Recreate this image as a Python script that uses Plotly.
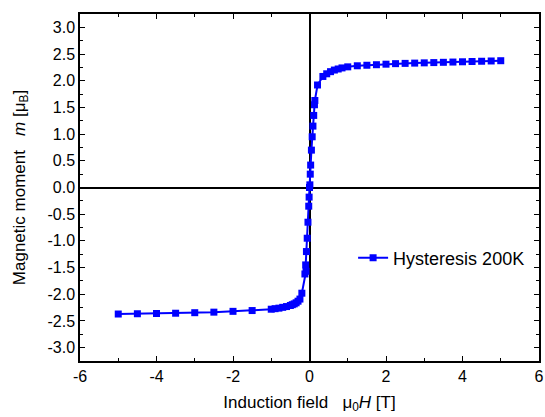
import plotly.graph_objects as go

H = [-5.0, -4.5, -4.0, -3.5, -3.0, -2.5, -2.0, -1.5, -1.0, -0.9, -0.8, -0.7, -0.6,
     -0.5, -0.45, -0.4, -0.35, -0.3, -0.25, -0.2, -0.09,
     -0.12, -0.10, -0.08, -0.06, -0.04, -0.02, -0.01, 0.0, 0.01, 0.02, 0.03, 0.05,
     0.07, 0.09, 0.11, 0.13, 0.14,
     0.21, 0.35, 0.45, 0.55, 0.65, 0.75, 0.85, 1.0, 1.25, 1.5, 1.75, 2.0, 2.25,
     2.5, 2.75, 3.0, 3.25, 3.5, 3.75, 4.0, 4.25, 4.5, 4.75, 5.0]
m = [-2.37, -2.365, -2.36, -2.355, -2.345, -2.335, -2.32, -2.305, -2.28, -2.27,
     -2.26, -2.245, -2.23, -2.21, -2.195, -2.18, -2.16, -2.13, -2.09, -1.98, -1.57,
     -1.62, -1.45, -1.2, -0.95, -0.65, -0.35, -0.18, 0.0, 0.05, 0.25, 0.42, 0.7,
     0.95, 1.15, 1.35, 1.55, 1.63,
     1.92, 2.08, 2.13, 2.17, 2.2, 2.22, 2.24, 2.26, 2.28, 2.29, 2.30, 2.31, 2.32,
     2.325, 2.33, 2.335, 2.34, 2.345, 2.35, 2.355, 2.36, 2.365, 2.37, 2.375]

xticks = [-6, -4, -2, 0, 2, 4, 6]
xticktext = ["-6", "-4", "-2", "0", "2", "4", "6"]
yticks = [-3.0, -2.5, -2.0, -1.5, -1.0, -0.5, 0.0, 0.5, 1.0, 1.5, 2.0, 2.5, 3.0]
yticktext = ["-3.0", "-2.5", "-2.0", "-1.5", "-1.0", "-0.5", "0.0",
             "0.5", "1.0", "1.5", "2.0", "2.5", "3.0"]

fig = go.Figure()
fig.add_trace(go.Scatter(
    x=H, y=m, mode="lines+markers", name="Hysteresis 200K",
    line=dict(color="#0000FF", width=2),
    marker=dict(symbol="square", size=7, color="#0000FF"),
))

font = "Liberation Sans, Arial, sans-serif"
fig.update_layout(
    width=545, height=417,
    margin=dict(l=80, r=6, t=14, b=56, autoexpand=False),
    plot_bgcolor="white", paper_bgcolor="white",
    font=dict(family=font, size=16, color="black"),
    showlegend=True,
    legend=dict(x=0.595, y=0.297, xanchor="left", yanchor="middle",
                bgcolor="rgba(0,0,0,0)", font=dict(size=18)),
    xaxis=dict(
        range=[-6, 6], tickvals=xticks, ticktext=xticktext, automargin=False,
        ticks="inside", ticklen=5, tickwidth=1, tickcolor="black",
        minor=dict(dtick=1, ticks="inside", ticklen=3, tickcolor="black", showgrid=False),
        showline=True, linecolor="black", linewidth=1.5, mirror="ticks",
        showgrid=False, zeroline=True, zerolinecolor="black", zerolinewidth=1.5,
        tickfont=dict(size=16),
        title=dict(text="Induction field   μ<sub>0</sub><i>H</i> [T]", font=dict(size=17), standoff=12),
    ),
    yaxis=dict(
        range=[-3.25, 3.25], tickvals=yticks, ticktext=yticktext, automargin=False,
        ticks="inside", ticklen=5, tickwidth=1, tickcolor="black",
        minor=dict(dtick=0.25, tick0=0, ticks="inside", ticklen=3, tickcolor="black", showgrid=False),
        showline=True, linecolor="black", linewidth=1.5, mirror="ticks",
        showgrid=False, zeroline=True, zerolinecolor="black", zerolinewidth=1.5,
        tickfont=dict(size=16),
        title=dict(text="Magnetic moment   <i>m</i> [μ<sub>B</sub>]", font=dict(size=17), standoff=18),
    ),
)

fig.write_html("out.html",
               config={"displayModeBar": False},
               post_script="document.body.style.margin='0px';document.body.style.overflow='hidden';")
